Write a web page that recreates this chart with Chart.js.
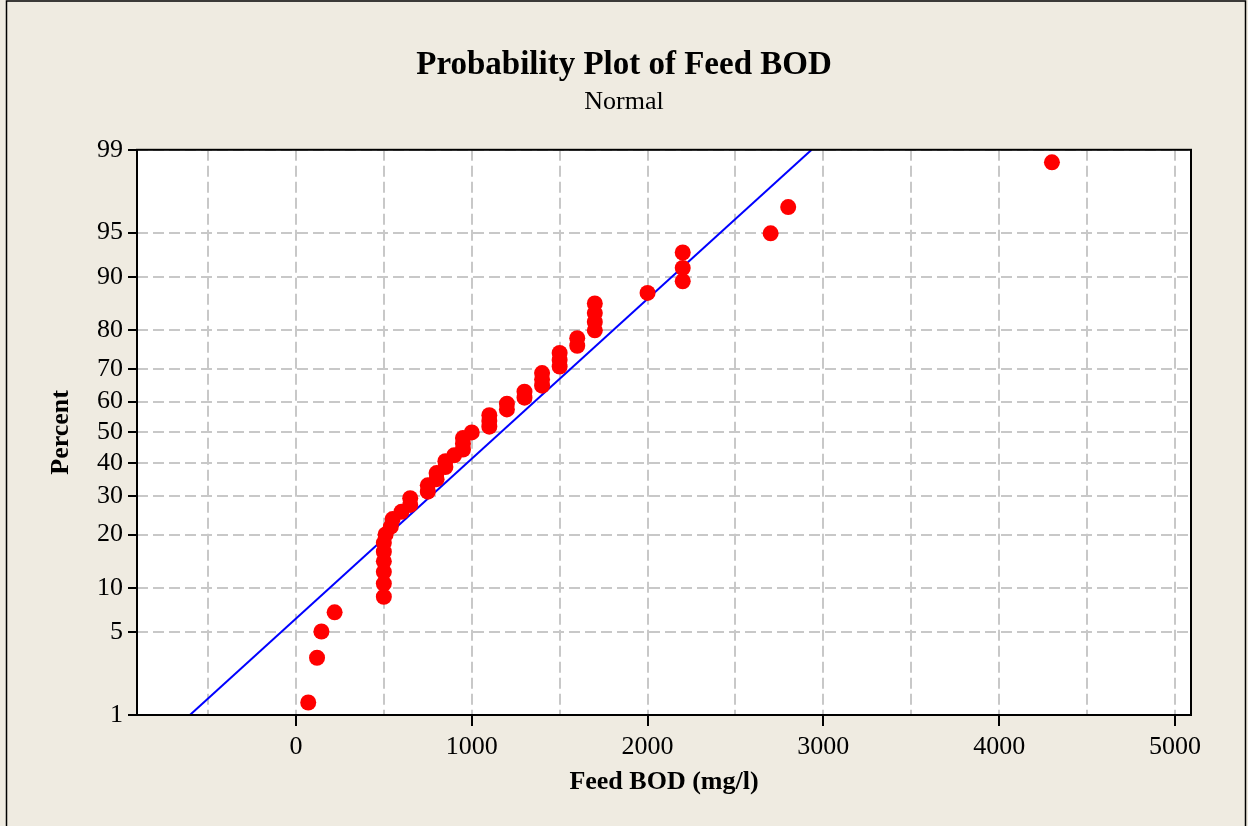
<!DOCTYPE html>
<html>
<head>
<meta charset="utf-8">
<title>Probability Plot of Feed BOD</title>
<script src="https://cdn.jsdelivr.net/npm/chart.js@4/dist/chart.umd.min.js"></script>
<style>
  html, body { margin: 0; padding: 0; background: #efebe1; }
  canvas { display: block; }
</style>
</head>
<body>
<canvas id="graph_bod" width="1248" height="826"></canvas>
<script>
// Feed BOD values (mg/l), sorted
var bodValues = [70, 120, 145, 220, 500, 500, 500, 500, 500, 500, 510, 540, 550, 600, 650, 650,
    750, 750, 800, 800, 850, 850, 900, 950, 950, 950, 1000, 1100, 1100, 1100, 1200, 1200,
    1300, 1300, 1400, 1400, 1400, 1500, 1500, 1500, 1600, 1600, 1700, 1700, 1700, 1700,
    2000, 2200, 2200, 2200, 2700, 2800, 4300];
// plotted percent for each value
var bodPercents = [1.31, 3.18, 5.06, 6.93, 8.80, 10.67, 12.55, 14.42, 16.29, 18.16, 20.04, 21.91,
    23.78, 25.66, 27.53, 29.40, 31.27, 33.15, 35.02, 36.89, 38.76, 40.64, 42.51, 44.38, 46.25,
    48.13, 50.00, 51.87, 53.75, 55.62, 57.49, 59.36, 61.24, 63.11, 64.98, 66.85, 68.73, 70.60,
    72.47, 74.34, 76.22, 78.09, 79.96, 81.84, 83.71, 85.58, 87.45, 89.33, 91.20, 93.07, 94.94,
    96.82, 98.69];
// fitted normal line
var fitMean = 1165;
var fitStDev = 760;
var linePercents = [1, 99];
// ticks
var percentTicks = [1, 5, 10, 20, 30, 40, 50, 60, 70, 80, 90, 95, 99];
var xGridValues = [-500, 0, 500, 1000, 1500, 2000, 2500, 3000, 3500, 4000, 4500, 5000];
var xLabelValues = [0, 1000, 2000, 3000, 4000, 5000];

var serif = '"Liberation Serif", "Times New Roman", serif';

// inverse of the standard normal cdf (Acklam)
function normInv(p) {
    var a = [-3.969683028665376e+01, 2.209460984245205e+02, -2.759285104469687e+02, 1.383577518672690e+02, -3.066479806614716e+01, 2.506628277459239e+00];
    var b = [-5.447609879822406e+01, 1.615858368580409e+02, -1.556989798598866e+02, 6.680131188771972e+01, -1.328068155288572e+01];
    var c = [-7.784894002430293e-03, -3.223964580411365e-01, -2.400758277161838e+00, -2.549732539343734e+00, 4.374664141464968e+00, 2.938163982698783e+00];
    var d = [7.784695709041462e-03, 3.224671290700398e-01, 2.445134137142996e+00, 3.754408661907416e+00];
    var q, r;
    if (p < 0.02425) {
        q = Math.sqrt(-2 * Math.log(p));
        return (((((c[0]*q+c[1])*q+c[2])*q+c[3])*q+c[4])*q+c[5]) / ((((d[0]*q+d[1])*q+d[2])*q+d[3])*q+1);
    }
    if (p > 1 - 0.02425) {
        q = Math.sqrt(-2 * Math.log(1 - p));
        return -(((((c[0]*q+c[1])*q+c[2])*q+c[3])*q+c[4])*q+c[5]) / ((((d[0]*q+d[1])*q+d[2])*q+d[3])*q+1);
    }
    q = p - 0.5;
    r = q * q;
    return (((((a[0]*r+a[1])*r+a[2])*r+a[3])*r+a[4])*r+a[5])*q / (((((b[0]*r+b[1])*r+b[2])*r+b[3])*r+b[4])*r+1);
}

var pointData = bodValues.map(function (v, i) {
    return { x: v, y: normInv(bodPercents[i] / 100) };
});
var lineData = linePercents.map(function (p) {
    var z = normInv(p / 100);
    return { x: fitMean + fitStDev * z, y: z };
});

// page background, white plot area and frames
var framePlugin = {
    id: 'frame',
    beforeDraw: function (chart) {
        var c = chart.ctx, a = chart.chartArea;
        c.save();
        c.fillStyle = '#efebe1';
        c.fillRect(0, 0, chart.width, chart.height);
        c.fillStyle = '#ffffff';
        c.fillRect(a.left, a.top, a.right - a.left, a.bottom - a.top);
        c.strokeStyle = '#000000';
        c.lineWidth = 1.5;
        c.beginPath();
        c.moveTo(6.5, chart.height);
        c.lineTo(6.5, 1);
        c.lineTo(1245.5, 1);
        c.lineTo(1245.5, chart.height);
        c.stroke();
        c.restore();
    },
    afterDraw: function (chart) {
        var c = chart.ctx, a = chart.chartArea;
        c.save();
        c.strokeStyle = '#000000';
        c.lineWidth = 2;
        c.strokeRect(a.left, a.top, a.right - a.left, a.bottom - a.top);
        c.restore();
    }
};

var ctx = document.getElementById('graph_bod').getContext('2d');

var graph_bod = new Chart(ctx, {
    type: 'scatter',
    data: {
        datasets: [{
            data: pointData,
            backgroundColor: '#ff0000',
            borderWidth: 0,
            pointRadius: 8,
            order: 1
        }, {
            type: 'line',
            data: lineData,
            borderColor: '#0000ff',
            borderWidth: 2,
            pointRadius: 0,
            fill: false,
            order: 2
        }]
    },
    options: {
        responsive: false,
        animation: false,
        devicePixelRatio: 1,
        layout: { padding: 0 },
        plugins: {
            legend: { display: false },
            tooltip: { enabled: false },
            title: {
                display: true,
                text: 'Probability Plot of Feed BOD',
                color: '#000000',
                font: { family: serif, size: 33, weight: 'bold' },
                padding: { top: 46, bottom: 0 }
            },
            subtitle: {
                display: true,
                text: 'Normal',
                color: '#000000',
                font: { family: serif, size: 26, weight: 'normal' },
                padding: { top: 1, bottom: 32 }
            }
        },
        scales: {
            x: {
                type: 'linear',
                min: -904,
                max: 5091,
                afterFit: function (scale) { scale.height = 111; },
                afterBuildTicks: function (scale) {
                    scale.ticks = xGridValues.map(function (v) { return { value: v }; });
                },
                ticks: {
                    autoSkip: false,
                    maxRotation: 0,
                    padding: 6,
                    color: '#000000',
                    font: { family: serif, size: 26 },
                    callback: function (v) { return xLabelValues.indexOf(v) >= 0 ? String(v) : ''; }
                },
                grid: {
                    color: '#c8c8c8',
                    lineWidth: 2,
                    tickLength: 11,
                    tickWidth: 2,
                    tickColor: function (c) {
                        return c.tick && xLabelValues.indexOf(c.tick.value) >= 0 ? '#000000' : 'rgba(0,0,0,0)';
                    }
                },
                border: { display: false, dash: [11, 5] },
                title: {
                    display: true,
                    text: 'Feed BOD (mg/l)',
                    color: '#000000',
                    font: { family: serif, size: 26, weight: 'bold' },
                    padding: { top: 0, bottom: 28 }
                }
            },
            y: {
                type: 'linear',
                min: normInv(0.01),
                max: normInv(0.99),
                afterFit: function (scale) { scale.width = 137; },
                afterBuildTicks: function (scale) {
                    scale.ticks = percentTicks.map(function (p) { return { value: normInv(p / 100) }; });
                },
                ticks: {
                    autoSkip: false,
                    padding: 5,
                    color: '#000000',
                    font: { family: serif, size: 26 },
                    callback: function (v, i) { return String(percentTicks[i]); }
                },
                grid: {
                    color: '#c8c8c8',
                    lineWidth: 2,
                    tickLength: 9,
                    tickWidth: 2,
                    tickColor: '#000000'
                },
                border: { display: false, dash: [11, 5] },
                title: {
                    display: true,
                    text: 'Percent',
                    color: '#000000',
                    font: { family: serif, size: 26, weight: 'bold' },
                    padding: { top: 46, bottom: 0 }
                }
            },
            // empty right margin
            yRight: {
                type: 'linear',
                position: 'right',
                min: 0,
                max: 1,
                afterFit: function (scale) { scale.width = 57; },
                ticks: { display: false },
                grid: { display: false },
                border: { display: false }
            }
        }
    },
    plugins: [framePlugin]
});
</script>
</body>
</html>
